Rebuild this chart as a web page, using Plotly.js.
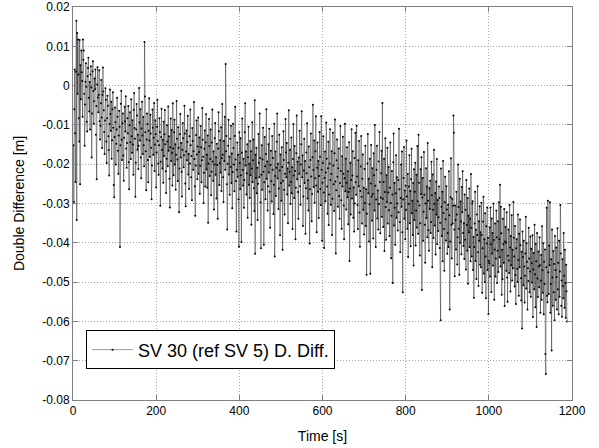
<!DOCTYPE html>
<html><head><meta charset="utf-8">
<script src="https://cdn.plot.ly/plotly-3.0.1.min.js"></script>
<style>html,body{margin:0;padding:0;background:#fff;}#chart{width:599px;height:448px;}</style>
</head><body><div id="chart"></div>
<script>
// sampling of the time axis (s)
const timeStart = 1;
const timeStep = 1;
// double difference values (m), one per second
const doubleDifference = [
-.0152,-.0296,-.0060,.0041,-.0121,-.0245,.0035,.0165,-.0342,.0134,-.0021,.0117,.0028,-.0083,-.0142,.0116,-.0251,.0052,-.0035,.0089,
.0034,.0012,-.0079,.0117,.0066,.0089,-.0021,-.0153,-.0048,.0010,.0057,-.0003,-.0092,-.0117,.0024,.0045,.0071,-.0031,-.0066,.0009,
-.0112,.0028,.0049,-.0005,-.0183,-.0071,.0036,.0062,-.0014,-.0097,-.0040,.0018,-.0009,.0041,-.0125,-.0052,-.0238,.0003,.0047,-.0030,
-.0068,-.0024,.0039,-.0091,-.0137,-.0102,-.0045,.0014,-.0081,-.0159,-.0023,.0046,-.0015,-.0063,-.0118,-.0174,-.0089,-.0007,-.0036,-.0142,
-.0197,-.0083,-.0026,-.0051,-.0129,-.0164,-.0229,-.0098,-.0010,-.0072,-.0115,-.0041,-.0186,-.0139,-.0060,-.0017,-.0107,-.0253,-.0284,-.0131,
-.0056,-.0093,-.0201,-.0148,-.0112,-.0031,-.0079,-.0166,-.0224,-.0127,-.0064,-.0105,-.0411,-.0152,-.0046,-.0013,-.0138,-.0189,-.0096,-.0071,
-.0178,-.0242,-.0133,-.0054,-.0091,-.0117,-.0027,-.0160,-.0209,-.0146,-.0083,-.0121,-.0052,-.0195,-.0264,-.0101,-.0068,-.0144,-.0187,-.0035,
-.0129,-.0171,-.0088,-.0150,-.0227,-.0062,-.0019,-.0108,-.0135,-.0283,-.0196,-.0112,-.0047,-.0076,-.0163,-.0125,-.0212,-.0153,-.0006,-.0094,
-.0140,-.0060,-.0183,-.0236,-.0109,-.0041,-.0127,-.0174,-.0080,-.0152,-.0205,.0111,-.0028,-.0119,-.0167,-.0266,-.0137,-.0071,-.0098,-.0189,
-.0246,-.0115,-.0032,-.0140,-.0181,-.0074,-.0122,-.0158,-.0289,-.0203,-.0061,-.0107,-.0176,-.0133,-.0044,-.0217,-.0150,-.0088,-.0124,-.0259,
-.0170,-.0105,-.0036,-.0141,-.0198,-.0227,-.0152,-.0083,-.0118,-.0306,-.0194,-.0131,-.0059,-.0164,-.0211,-.0138,-.0247,-.0092,-.0179,-.0124,
-.0062,-.0149,-.0218,-.0273,-.0186,-.0101,-.0142,-.0205,-.0053,-.0166,-.0129,-.0237,-.0310,-.0157,-.0084,-.0192,-.0113,-.0171,-.0254,-.0045,
-.0160,-.0228,-.0119,-.0087,-.0201,-.0149,-.0265,-.0176,-.0039,-.0135,-.0188,-.0243,-.0106,-.0158,-.0322,-.0211,-.0124,-.0072,-.0183,-.0146,
-.0219,-.0282,-.0163,-.0095,-.0134,-.0208,-.0177,-.0051,-.0122,-.0249,-.0307,-.0168,-.0114,-.0190,-.0143,-.0077,-.0226,-.0174,-.0263,-.0129,
-.0198,-.0061,-.0152,-.0233,-.0179,-.0292,-.0108,-.0141,-.0214,-.0167,-.0042,-.0187,-.0256,-.0331,-.0203,-.0126,-.0089,-.0175,-.0238,-.0155,
-.0081,-.0224,-.0169,-.0132,-.0275,-.0204,-.0103,-.0157,-.0246,-.0190,-.0057,-.0138,-.0181,-.0299,-.0222,-.0161,-.0114,-.0257,-.0145,-.0073,
-.0213,-.0176,-.0260,-.0127,-.0349,-.0198,-.0085,-.0154,-.0230,-.0187,-.0112,-.0279,-.0219,-.0145,-.0061,-.0193,-.0242,-.0168,-.0315,-.0201,
-.0134,-.0095,-.0227,-.0182,-.0287,-.0148,-.0202,-.0339,-.0160,-.0068,-.0116,-.0253,-.0197,-.0139,-.0221,-.0106,-.0268,-.0185,-.0047,-.0176,
-.0233,-.0296,-.0141,-.0192,-.0079,-.0214,.0055,-.0167,-.0128,-.0251,-.0366,-.0199,-.0153,-.0087,-.0226,-.0181,-.0278,-.0135,-.0207,-.0102,
-.0248,-.0173,-.0312,-.0220,-.0097,-.0159,-.0201,-.0269,-.0128,-.0054,-.0188,-.0243,-.0371,-.0214,-.0145,-.0232,-.0176,-.0289,-.0410,-.0119,
-.0197,-.0263,-.0134,-.0228,-.0398,-.0171,-.0084,-.0215,-.0254,-.0186,-.0311,-.0240,-.0119,-.0045,-.0203,-.0168,-.0277,-.0223,-.0149,-.0336,
-.0182,-.0105,-.0252,-.0199,-.0286,-.0141,-.0228,-.0167,-.0354,-.0211,-.0093,-.0245,-.0190,-.0137,-.0261,-.0319,-.0037,-.0428,-.0176,-.0235,
-.0158,-.0274,-.0209,-.0342,-.0250,-.0123,-.0196,-.0233,-.0071,-.0184,-.0297,-.0414,-.0227,-.0152,-.0265,-.0188,-.0107,-.0219,-.0405,-.0246,
-.0131,-.0205,-.0289,-.0174,-.0060,-.0237,-.0193,-.0318,-.0256,-.0149,-.0221,-.0110,-.0270,-.0362,-.0202,-.0166,-.0243,-.0295,-.0128,-.0214,
-.0184,-.0327,-.0252,-.0097,-.0435,-.0230,-.0168,-.0281,-.0209,-.0143,-.0071,-.0236,-.0199,-.0314,-.0262,-.0125,-.0216,-.0381,-.0175,-.0248,
-.0293,-.0157,-.0207,-.0418,-.0242,-.0116,-.0189,-.0265,-.0328,-.0224,-.0085,-.0170,-.0233,-.0146,-.0277,-.0211,-.0350,-.0196,-.0063,-.0254,
-.0219,-.0163,-.0301,-.0245,-.0132,-.0274,-.0208,-.0365,-.0187,-.0098,-.0229,-.0286,-.0154,-.0217,-.0391,-.0260,-.0172,-.0076,-.0238,-.0194,
-.0271,-.0339,-.0183,-.0224,-.0115,-.0256,-.0303,-.0201,-.0149,-.0065,-.0233,-.0178,-.0357,-.0282,-.0216,-.0135,-.0248,-.0192,-.0377,-.0261,
-.0170,-.0223,-.0096,-.0287,-.0241,-.0318,-.0155,-.0207,-.0402,-.0264,-.0189,-.0122,-.0231,-.0345,-.0276,-.0182,-.0049,-.0215,-.0258,-.0140,
-.0298,-.0236,-.0167,-.0078,-.0254,-.0373,-.0209,-.0145,-.0270,-.0192,-.0337,-.0230,-.0118,-.0181,-.0263,-.0304,-.0078,-.0214,-.0395,-.0247,
-.0196,-.0129,-.0272,-.0413,-.0235,-.0168,-.0294,-.0221,-.0094,-.0186,-.0257,-.0326,-.0210,-.0143,-.0355,-.0277,-.0198,-.0111,-.0240,-.0303,
-.0225,-.0167,-.0380,-.0288,-.0120,-.0203,-.0251,-.0319,-.0172,-.0086,-.0244,-.0427,-.0266,-.0190,-.0137,-.0232,-.0308,-.0210,-.0160,-.0281,
-.0339,-.0248,-.0103,-.0217,-.0292,-.0364,-.0180,-.0257,-.0130,-.0224,-.0305,-.0391,-.0236,-.0097,-.0269,-.0186,-.0315,-.0247,-.0157,-.0284,
-.0218,-.0353,-.0271,-.0144,-.0446,-.0262,-.0196,-.0328,-.0240,-.0111,-.0287,-.0229,-.0167,-.0336,-.0259,-.0371,-.0184,-.0300,-.0120,-.0246,
-.0278,-.0102,-.0231,-.0304,-.0365,-.0190,-.0256,-.0141,-.0323,-.0410,-.0268,-.0206,-.0128,-.0283,-.0351,-.0237,-.0175,-.0316,-.0260,-.0379,
-.0212,-.0299,-.0153,-.0357,-.0264,-.0481,-.0326,-.0198,-.0123,-.0274,-.0237,-.0397,-.0302,-.0186,-.0479,-.0249,-.0151,-.0282,-.0343,-.0210,
-.0276,-.0389,-.0172,-.0228,-.0318,-.0100,-.0255,-.0411,-.0290,-.0214,-.0153,-.0338,-.0267,-.0366,-.0193,-.0301,-.0118,-.0245,-.0376,-.0285,
-.0223,-.0166,-.0334,-.0044,-.0288,-.0360,-.0245,-.0186,-.0421,-.0271,-.0134,-.0309,-.0392,-.0228,-.0296,-.0158,-.0351,-.0272,-.0207,-.0317,
-.0383,-.0260,-.0145,-.0299,-.0439,-.0331,-.0217,-.0277,-.0502,-.0195,-.0122,-.0356,-.0248,-.0311,-.0405,-.0274,-.0177,-.0336,-.0233,-.0300,
-.0369,-.0240,-.0322,-.0110,-.0264,-.0347,-.0424,-.0286,-.0201,-.0308,-.0168,-.0373,-.0526,-.0290,-.0235,-.0156,-.0339,-.0267,-.0391,-.0255,
-.0316,-.0140,-.0282,-.0364,-.0225,-.0436,-.0301,-.0257,-.0177,-.0350,-.0268,-.0409,-.0238,-.0161,-.0325,-.0293,-.0380,-.0248,-.0458,-.0213,
-.0342,-.0270,-.0196,-.0407,-.0318,-.0227,-.0361,-.0154,-.0294,-.0377,-.0125,-.0247,-.0305,-.0432,-.0350,-.0213,-.0276,-.0182,-.0520,-.0285,
-.0235,-.0395,-.0321,-.0169,-.0278,-.0354,-.0451,-.0300,-.0210,-.0337,-.0257,-.0386,-.0146,-.0293,-.0368,-.0420,-.0261,-.0314,-.0242,-.0375,
-.0347,-.0194,-.0279,-.0462,-.0226,-.0316,-.0388,-.0163,-.0301,-.0356,-.0273,-.0430,-.0244,-.0328,-.0187,-.0404,-.0291,-.0370,-.0335,-.0257,
-.0286,-.0413,-.0349,-.0597,-.0211,-.0308,-.0383,-.0270,-.0447,-.0192,-.0324,-.0365,-.0471,-.0297,-.0232,-.0340,-.0394,-.0256,-.0315,-.0428,
-.0375,-.0303,-.0411,-.0218,-.0330,-.0570,-.0397,-.0284,-.0185,-.0354,-.0440,-.0288,-.0351,-.0306,-.0076,-.0120,-.0366,-.0485,-.0305,-.0342,
-.0417,-.0270,-.0328,-.0455,-.0386,-.0201,-.0309,-.0364,-.0481,-.0237,-.0400,-.0295,-.0346,-.0429,-.0258,-.0322,-.0218,-.0375,-.0408,-.0350,
-.0441,-.0277,-.0392,-.0316,-.0468,-.0240,-.0355,-.0420,-.0286,-.0504,-.0331,-.0373,-.0262,-.0411,-.0338,-.0447,-.0225,-.0362,-.0435,-.0300,
-.0294,-.0469,-.0385,-.0540,-.0411,-.0351,-.0270,-.0446,-.0367,-.0492,-.0328,-.0380,-.0256,-.0424,-.0510,-.0345,-.0395,-.0307,-.0456,-.0373,
-.0462,-.0298,-.0380,-.0527,-.0414,-.0346,-.0283,-.0478,-.0391,-.0500,-.0325,-.0435,-.0541,-.0358,-.0402,-.0310,-.0469,-.0387,-.0581,-.0446,
-.0452,-.0361,-.0486,-.0310,-.0404,-.0525,-.0338,-.0427,-.0375,-.0458,-.0300,-.0393,-.0545,-.0417,-.0351,-.0486,-.0440,-.0318,-.0386,-.0502,
-.0420,-.0345,-.0474,-.0297,-.0391,-.0437,-.0252,-.0460,-.0308,-.0376,-.0532,-.0418,-.0493,-.0339,-.0404,-.0451,-.0314,-.0561,-.0397,-.0360,
-.0400,-.0471,-.0322,-.0488,-.0550,-.0433,-.0366,-.0445,-.0477,-.0304,-.0412,-.0524,-.0383,-.0457,-.0330,-.0496,-.0418,-.0465,-.0296,-.0387,
-.0435,-.0511,-.0357,-.0482,-.0556,-.0414,-.0391,-.0466,-.0500,-.0328,-.0444,-.0535,-.0377,-.0462,-.0341,-.0406,-.0490,-.0547,-.0423,-.0618,
-.0371,-.0436,-.0508,-.0395,-.0460,-.0552,-.0484,-.0427,-.0334,-.0516,-.0401,-.0448,-.0570,-.0465,-.0497,-.0362,-.0440,-.0526,-.0473,-.0384,
-.0537,-.0415,-.0452,-.0501,-.0381,-.0589,-.0468,-.0426,-.0518,-.0354,-.0480,-.0564,-.0403,-.0447,-.0614,-.0375,-.0491,-.0538,-.0422,-.0460,
-.0513,-.0386,-.0457,-.0578,-.0496,-.0431,-.0545,-.0358,-.0470,-.0527,-.0401,-.0582,-.0448,-.0505,-.0417,-.0683,-.0734,-.0462,-.0311,-.0535,
-.0551,-.0293,-.0475,-.0530,-.0407,-.0457,-.0297,-.0578,-.0505,-.0442,-.0674,-.0366,-.0488,-.0560,-.0421,-.0526,-.0454,-.0597,-.0383,-.0469,
-.0545,-.0412,-.0487,-.0570,-.0363,-.0518,-.0451,-.0582,-.0395,-.0537,-.0473,-.0304,-.0427,-.0560,-.0496,-.0588,-.0442,-.0510,-.0541,-.0375,
-.0484,-.0565,-.0418,-.0502,-.0591,-.0456,-.0523,-.0600
];
const seriesName = 'SV 30 (ref SV 5) D. Diff.';
const xTickVals = [0, 200, 400, 600, 800, 1000, 1200];
const xTickText = ['0', '200', '400', '600', '800', '1000', '1200'];
const yTickVals = [0.02, 0.01, 0, -0.01, -0.02, -0.03, -0.04, -0.05, -0.06, -0.07, -0.08];
const yTickText = ['0.02', '0.01', '0', '-0.01', '-0.02', '-0.03', '-0.04', '-0.05', '-0.06', '-0.07', '-0.08'];
const xTitle = 'Time [s]';
const yTitle = 'Double Difference [m]';

const FONT = 'Liberation Sans, Arial, Helvetica, sans-serif';
const axisCommon = {
  showline: true, linecolor: '#808080', linewidth: 1, mirror: 'ticks',
  ticks: 'inside', ticklen: 5, tickcolor: '#808080', tickwidth: 1,
  showgrid: true, gridcolor: '#a8a8a8', gridwidth: 1, griddash: '1px,2px',
  zeroline: false, tickfont: {family: FONT, size: 12, color: '#000'}
};
const trace = {
  type: 'scatter', mode: 'lines+markers', name: seriesName,
  y: doubleDifference, x0: timeStart, dx: timeStep,
  line: {color: '#000', width: 0.4},
  marker: {color: '#000', size: 2, symbol: 'circle', line: {width: 0}}
};
const layout = {
  width: 599, height: 448,
  margin: {l: 73, r: 27, t: 7, b: 48, pad: 0},
  paper_bgcolor: '#fff', plot_bgcolor: '#fff',
  font: {family: FONT, color: '#000'},
  showlegend: true,
  legend: {
    x: 0.026, y: 0.177, xanchor: 'left', yanchor: 'top',
    bgcolor: '#fff', bordercolor: '#000', borderwidth: 1, itemwidth: 41,
    font: {family: FONT, size: 18, color: '#000'}
  },
  xaxis: Object.assign({}, axisCommon, {
    range: [0, 1200], tickmode: 'array', tickvals: xTickVals, ticktext: xTickText,
    title: {text: xTitle, font: {family: FONT, size: 14, color: '#000'}, standoff: 13}
  }),
  yaxis: Object.assign({}, axisCommon, {
    range: [-0.08, 0.02], tickmode: 'array', tickvals: yTickVals, ticktext: yTickText,
    title: {text: yTitle, font: {family: FONT, size: 14, color: '#000'}, standoff: 14}
  })
};
Plotly.newPlot('chart', [trace], layout, {staticPlot: true, displayModeBar: false});
</script>
</body></html>
